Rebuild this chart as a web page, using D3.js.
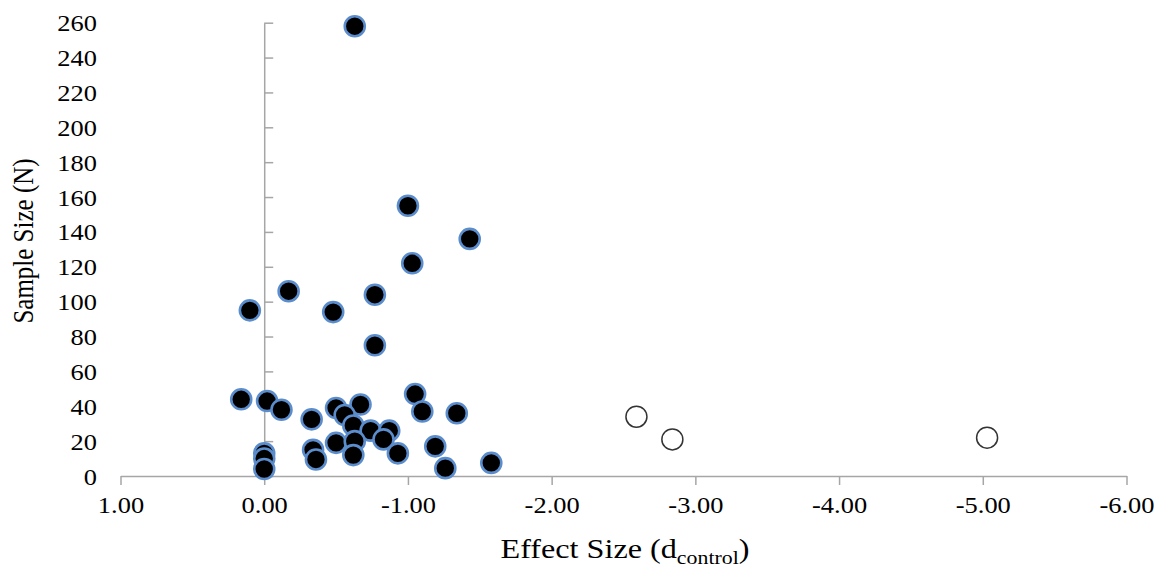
<!DOCTYPE html>
<html>
<head>
<meta charset="utf-8">
<script src="https://cdn.jsdelivr.net/npm/d3@7"></script>
<style>
  html, body { margin: 0; padding: 0; background: #fff; }
  svg text { font-family: "Liberation Serif", "Times New Roman", serif; fill: #000; }
</style>
</head>
<body>
<div id="chart"></div>
<script>
// ── Données ────────────────────────────────────────────────────────────────
// études "pleines" (cercles noirs)
const filledEffect = [-0.63, -1.00, -1.43, -1.03, -0.17, 0.10, -0.48, -0.77, -0.77,
                      0.16, -0.02, -0.12, -0.33, 0.00, 0.00, 0.00, -0.34, -0.36,
                      -0.50, -0.67, -0.56, -0.62, -0.74, -0.87, -0.83, -0.50, -0.63,
                      -0.62, -0.93, -1.05, -1.10, -1.34, -1.19, -1.26, -1.58];
const filledN      = [258, 155, 136, 122, 106, 95, 94, 104, 75,
                      44, 43, 38, 32.5, 13, 10, 4, 15, 9.5,
                      39, 41, 35, 29, 26, 26, 21, 19, 20,
                      12, 13, 47, 37, 36, 17, 4.5, 7.5];
// études "aberrantes" (cercles vides)
const openEffect = [-2.59, -2.84, -5.03];
const openN      = [34, 21, 22];

const xTicks = [1, 0, -1, -2, -3, -4, -5, -6];
const yTicks = [0, 20, 40, 60, 80, 100, 120, 140, 160, 180, 200, 220, 240, 260];

// ── Mise en page ───────────────────────────────────────────────────────────
const W = 1167, H = 569;
const SX = 1.15;            // le texte de l'original est étiré horizontalement
const axisColor = '#a6a6a6';

const x = d3.scaleLinear().domain([1, -6]).range([120.5, 1126.5]);
const y = d3.scaleLinear().domain([0, 260]).range([476, 22.7]);

const svg = d3.select('#chart').append('svg')
  .attr('width', W).attr('height', H)
  .attr('viewBox', `0 0 ${W} ${H}`);

// ── Axe X (en y = 0) ───────────────────────────────────────────────────────
const gx = svg.append('g')
  .attr('transform', `translate(0,${y(0)})`)
  .call(d3.axisBottom(x).tickValues(xTicks).tickSize(9).tickSizeOuter(0)
    .tickFormat(d => d.toFixed(2)));
gx.select('.domain').attr('stroke', axisColor).attr('stroke-width', 1.5);
gx.selectAll('.tick line').attr('stroke', axisColor).attr('stroke-width', 1.5);
gx.selectAll('.tick text')
  .attr('y', 0).attr('dy', null)
  .attr('transform', `translate(0,37) scale(${SX},1)`)
  .style('font-size', '23px');

// ── Axe Y (en x = 0), étiquettes à gauche ──────────────────────────────────
const gy = svg.append('g')
  .attr('transform', `translate(${x(0)},0)`)
  .call(d3.axisRight(y).tickValues(yTicks).tickSize(9).tickSizeOuter(0));
gy.select('.domain').attr('stroke', axisColor).attr('stroke-width', 1.5);
gy.selectAll('.tick line').attr('stroke', axisColor).attr('stroke-width', 1.5);
gy.selectAll('.tick text')
  .attr('x', 0).attr('dy', null).attr('y', 0)
  .attr('text-anchor', 'end')
  .attr('transform', `translate(${97 - x(0)},8) scale(${SX},1)`)
  .style('font-size', '23px');

// ── Points ────────────────────────────────────────────────────────────────
svg.append('g').selectAll('circle')
  .data(filledEffect.map((e, i) => ({ e, n: filledN[i] })))
  .join('circle')
  .attr('cx', d => x(d.e))
  .attr('cy', d => y(d.n))
  .attr('r', 10)
  .attr('fill', '#000')
  .attr('stroke', '#5b8ccc')
  .attr('stroke-width', 2.6);

svg.append('g').selectAll('circle')
  .data(openEffect.map((e, i) => ({ e, n: openN[i] })))
  .join('circle')
  .attr('cx', d => x(d.e))
  .attr('cy', d => y(d.n))
  .attr('r', 10.5)
  .attr('fill', '#fff')
  .attr('stroke', '#333')
  .attr('stroke-width', 1.5);

// ── Titres ────────────────────────────────────────────────────────────────
const xt = svg.append('text')
  .attr('text-anchor', 'middle')
  .attr('transform', `translate(625,558) scale(${SX},1)`)
  .style('font-size', '28px');
xt.append('tspan').text('Effect Size (d');
xt.append('tspan').attr('dy', 6).style('font-size', '19px').text('control');
xt.append('tspan').attr('dy', -6).text(')');

svg.append('text')
  .attr('text-anchor', 'middle')
  .attr('transform', `translate(33,241) scale(${SX},1) rotate(-90)`)
  .style('font-size', '25px')
  .text('Sample Size (N)');
</script>
</body>
</html>
